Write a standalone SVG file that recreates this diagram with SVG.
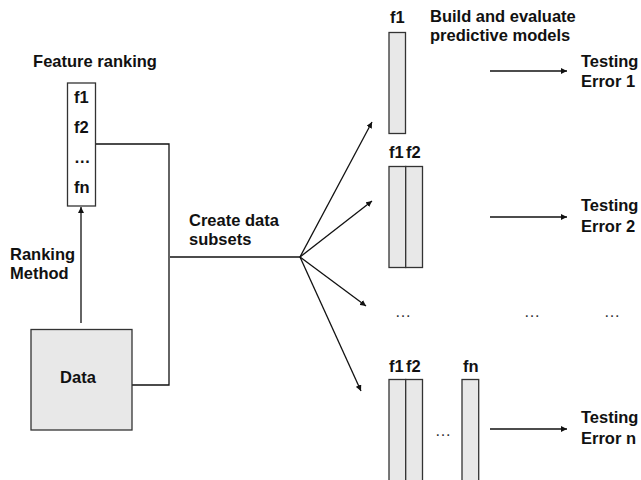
<svg xmlns="http://www.w3.org/2000/svg" width="641" height="480" viewBox="0 0 641 480">
<style>
text{font-family:"Liberation Sans",Arial,sans-serif;font-size:16.5px;font-weight:bold;fill:#111}
.dots{font-weight:normal;fill:#333}
.box{fill:#e8e8e8;stroke:#333;stroke-width:1.3}
.wbox{fill:#fff;stroke:#333;stroke-width:1.3}
.ln{fill:none;stroke:#111;stroke-width:1.3}
.ar{fill:none;stroke:#111;stroke-width:1.3;marker-end:url(#ah)}
</style>
<defs>
<marker id="ah" viewBox="0 0 10 10" refX="10" refY="5" markerWidth="6" markerHeight="6" markerUnits="userSpaceOnUse" orient="auto">
<path d="M0,0 L10,5 L0,10 z" fill="#111"/>
</marker>
</defs>
<g id="connectors">
<path class="ar" d="M81,323 L81,207"/>
<path class="ln" d="M96,144 L169,144 L169,385 L132,385"/>
<path class="ln" d="M170,257 L300,257"/>
<path class="ar" d="M300,257 L372,122"/>
<path class="ar" d="M300,257 L372,201"/>
<path class="ar" d="M300,257 L366,306"/>
<path class="ar" d="M300,257 L361,391"/>
<path class="ar" d="M490,71 L567,71"/>
<path class="ar" d="M490,217 L567,217"/>
<path class="ar" d="M490,429 L567,429"/>
</g>
<g id="feature-ranking">
<text x="95" y="67" text-anchor="middle">Feature ranking</text>
<rect class="wbox" x="67.5" y="83" width="28" height="123"/>
<text x="74" y="103">f1</text>
<text x="74" y="133">f2</text>
<text x="74" y="163">…</text>
<text x="74" y="193">fn</text>
</g>
<g id="ranking-method">
<text x="10" y="260">Ranking</text>
<text x="10" y="279">Method</text>
</g>
<g id="data">
<rect class="box" x="31" y="329.5" width="101" height="100.5"/>
<text x="78" y="383" text-anchor="middle">Data</text>
</g>
<g id="create-label">
<text x="189" y="226">Create data</text>
<text x="189" y="245">subsets</text>
</g>
<g id="build-label">
<text x="430" y="22">Build and evaluate</text>
<text x="430" y="41">predictive models</text>
</g>
<g id="subset1">
<text x="390" y="23">f1</text>
<rect class="box" x="389" y="32.5" width="16.5" height="101"/>
</g>
<g id="subset2">
<text x="389" y="158">f1</text>
<text x="406" y="158">f2</text>
<rect class="box" x="389" y="166.5" width="16.7" height="101"/>
<rect class="box" x="405.7" y="166.5" width="16.8" height="101"/>
</g>
<g id="subsetn">
<text x="389" y="372">f1</text>
<text x="406" y="372">f2</text>
<text x="463" y="372">fn</text>
<rect class="box" x="389" y="379.5" width="16.7" height="110"/>
<rect class="box" x="405.7" y="379.5" width="16.8" height="110"/>
<rect class="box" x="462" y="379.5" width="16.7" height="110"/>
<text class="dots" x="443" y="436" text-anchor="middle">…</text>
</g>
<g id="error1">
<text x="581" y="67">Testing</text>
<text x="581" y="87">Error 1</text>
</g>
<g id="error2">
<text x="581" y="211">Testing</text>
<text x="581" y="232">Error 2</text>
</g>
<g id="errorn">
<text x="581" y="423">Testing</text>
<text x="581" y="444">Error n</text>
</g>
<g id="ellipses">
<text class="dots" x="403" y="317" text-anchor="middle">…</text>
<text class="dots" x="532" y="317" text-anchor="middle">…</text>
<text class="dots" x="612" y="317" text-anchor="middle">…</text>
</g>
</svg>
